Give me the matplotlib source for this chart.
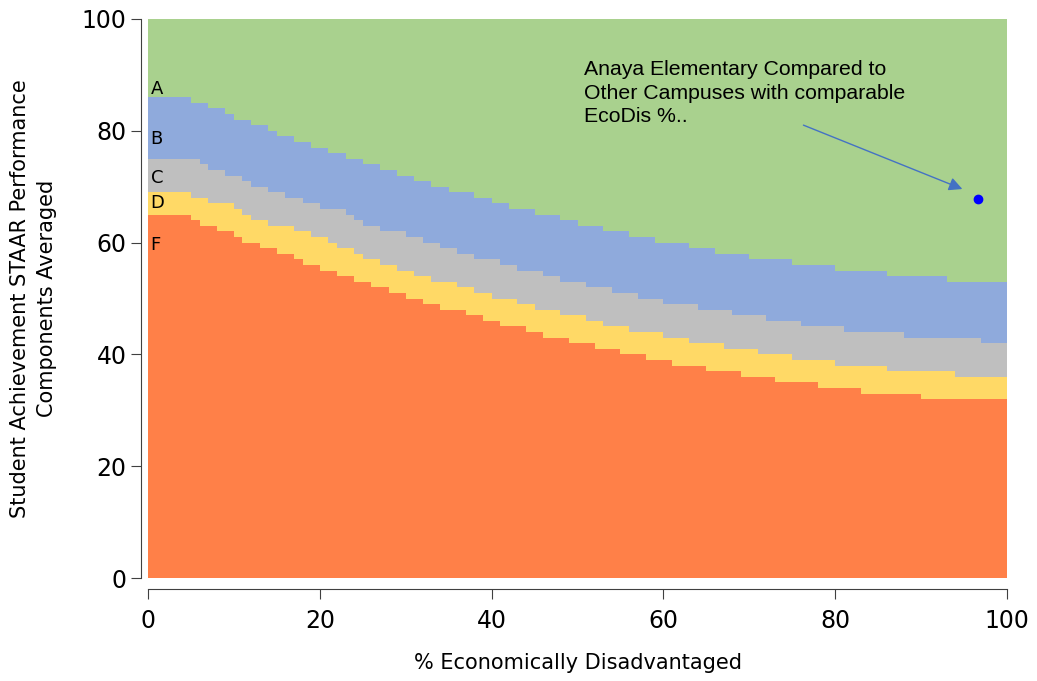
import numpy as np
import matplotlib.pyplot as plt

# границы полос (ступенчатые): x начала ступени и значение
f_x = [0, 5, 6, 8, 10, 11, 13, 15, 17, 18, 20, 22, 24, 26, 28, 30, 32, 34, 37, 39,
       41, 44, 46, 49, 52, 55, 58, 61, 65, 69, 73, 78, 83, 90]
f_y = [65, 64, 63, 62, 61, 60, 59, 58, 57, 56, 55, 54, 53, 52, 51, 50, 49, 48, 47, 46,
       45, 44, 43, 42, 41, 40, 39, 38, 37, 36, 35, 34, 33, 32]

d_x = [0, 5, 7, 10, 11, 12, 14, 17, 19, 21, 22, 24, 25, 27, 29, 31, 33, 36, 38, 40,
       43, 45, 48, 51, 53, 56, 60, 63, 67, 71, 75, 80, 86, 94]
d_y = [69, 68, 67, 66, 65, 64, 63, 62, 61, 60, 59, 58, 57, 56, 55, 54, 53, 52, 51, 50,
       49, 48, 47, 46, 45, 44, 43, 42, 41, 40, 39, 38, 37, 36]

c_x = [0, 6, 7, 9, 11, 12, 14, 16, 18, 20, 23, 24, 25, 27, 30, 32, 34, 36, 38, 41,
       43, 46, 48, 51, 54, 57, 60, 64, 68, 72, 76, 81, 88, 97]
c_y = [75, 74, 73, 72, 71, 70, 69, 68, 67, 66, 65, 64, 63, 62, 61, 60, 59, 58, 57, 56,
       55, 54, 53, 52, 51, 50, 49, 48, 47, 46, 45, 44, 43, 42]

b_x = [0, 5, 7, 9, 10, 12, 14, 15, 17, 19, 21, 23, 25, 27, 29, 31, 33, 35, 38, 40,
       42, 45, 48, 50, 53, 56, 59, 63, 66, 70, 75, 80, 86, 93]
b_y = [86, 85, 84, 83, 82, 81, 80, 79, 78, 77, 76, 75, 74, 73, 72, 71, 70, 69, 68, 67,
       66, 65, 64, 63, 62, 61, 60, 59, 58, 57, 56, 55, 54, 53]

grades = ['A', 'B', 'C', 'D', 'F']
grade_label_y = [87.5, 78.5, 71.5, 67, 59.5]

campus_x = 96.6
campus_y = 67.8

colors = {'A': '#A9D18E', 'B': '#8FAADC', 'C': '#BFBFBF', 'D': '#FFD966', 'F': '#FF8048'}


def step_vals(xs, ys, grid):
    idx = np.searchsorted(xs, grid, side='right') - 1
    return np.array(ys)[idx]


grid = np.unique(np.concatenate([f_x, d_x, c_x, b_x, [100]])).astype(float)
f_top = step_vals(f_x, f_y, grid)
d_top = step_vals(d_x, d_y, grid)
c_top = step_vals(c_x, c_y, grid)
b_top = step_vals(b_x, b_y, grid)
zeros = np.zeros_like(grid)
hundred = np.full_like(grid, 100)

fig = plt.figure(figsize=(10.37, 6.81), dpi=100)
ax = fig.add_axes([0.1427, 0.1512, 0.8284, 0.8209])

ax.fill_between(grid, zeros, f_top, step='post', color=colors['F'], lw=0)
ax.fill_between(grid, f_top, d_top, step='post', color=colors['D'], lw=0)
ax.fill_between(grid, d_top, c_top, step='post', color=colors['C'], lw=0)
ax.fill_between(grid, c_top, b_top, step='post', color=colors['B'], lw=0)
ax.fill_between(grid, b_top, hundred, step='post', color=colors['A'], lw=0)

for g, gy in zip(grades, grade_label_y):
    ax.text(0.3, gy, g, fontsize=13, va='center', ha='left', color='black')

ax.plot([campus_x], [campus_y], 'o', color='#0000FF', markersize=6)
ax.annotate('', xy=(95.1, 69.4), xytext=(76.0, 81.2),
            arrowprops=dict(arrowstyle='-|>', color='#4472C4', lw=1,
                            mutation_scale=20))
ax.text(50.8, 92.6, 'Anaya Elementary Compared to\nOther Campuses with comparable\nEcoDis %..',
        fontsize=15.3, family='Liberation Sans', va='top', ha='left', linespacing=1.3)

ax.set_xlim(0, 100)
ax.set_ylim(0, 100)
ax.set_xticks([0, 20, 40, 60, 80, 100])
ax.set_yticks([0, 20, 40, 60, 80, 100])
ax.tick_params(labelsize=17, length=7, color='#404040')
ax.tick_params(axis='x', pad=7)
for s in ['top', 'right']:
    ax.spines[s].set_visible(False)
ax.spines['left'].set_position(('outward', 5))
ax.spines['bottom'].set_position(('outward', 8))
ax.spines['left'].set_color('#404040')
ax.spines['bottom'].set_color('#404040')

ax.set_xlabel('% Economically Disadvantaged', fontsize=15, labelpad=15)
ax.set_ylabel('Student Achievement STAAR Performance\nComponents Averaged', fontsize=15,
              labelpad=18, linespacing=1.4)

fig.savefig('out.png', dpi=100)
